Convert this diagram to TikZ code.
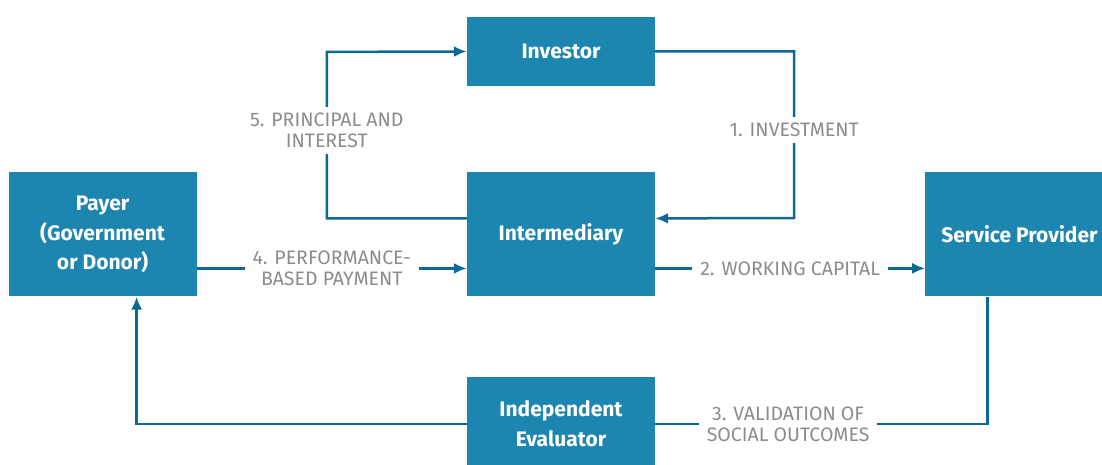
\documentclass[tikz,border=0pt]{standalone}
\usepackage{fontspec}
\setmainfont{Fira Sans}
\usetikzlibrary{shapes,arrows.meta,positioning}
\definecolor{boxblue}{RGB}{29,134,176}
\definecolor{lineblue}{RGB}{12,104,148}
\definecolor{labelgrey}{RGB}{140,140,140}
\tikzstyle{block} = [rectangle, fill=boxblue, text=white, align=center,
    minimum width=188pt, minimum height=124pt, inner sep=0pt,
    font=\bfseries\fontsize{21}{29.5}\selectfont]
\tikzstyle{line} = [draw, lineblue, line width=2.5pt, -{Latex[length=13pt,width=11pt]}]
\tikzstyle{link} = [draw, lineblue, line width=2.5pt]
\tikzstyle{flowlabel} = [fill=white, text=labelgrey, align=center,
    inner xsep=8pt, inner ysep=6pt, font=\fontsize{19.5}{21}\selectfont]

\begin{document}
\begin{tikzpicture}
	    \useasboundingbox (0,0) rectangle (1102pt,-465pt);
	    \clip (0,0) rectangle (1102pt,-465pt);
	    % Place nodes
	    \node [block, minimum height=69pt] (investor) at (561pt,-51.5pt) {Investor};
	    \node [block, below=86pt of investor] (intermediary) {Intermediary};
	    \node [block, left=270pt of intermediary] (payer) {Payer\\(Government\\or Donor)};
	    \node [block, right=270pt of intermediary] (provider) {Service Provider};
	    \node [block, minimum height=94pt, below=80pt of intermediary] (evaluator) {Independent\\Evaluator};
	    % Draw edges
	    \path [line] (investor.east) -- ++(139pt,0)
	        -- node [flowlabel, pos=0.47] {1. INVESTMENT} ++(0,-166.5pt)
	        -- ([yshift=16pt]intermediary.east);
	    \path [line] ([yshift=-34pt]intermediary.east)
	        -- node [flowlabel] {2. WORKING CAPITAL} ([yshift=-34pt]provider.west);
	    \path [link] ([xshift=-32pt]provider.south)
	        |- node [flowlabel, pos=0.8] {3. VALIDATION OF\\SOCIAL OUTCOMES} (evaluator.east);
	    \path [line] (evaluator.west) -| ([xshift=34pt]payer.south);
	    \path [line] ([yshift=-34pt]payer.east)
	        -- node [flowlabel] {4. PERFORMANCE-\\BASED PAYMENT} ([yshift=-34pt]intermediary.west);
	    \path [line] ([yshift=16pt]intermediary.west) -- ++(-140pt,0)
	        -- node [flowlabel, pos=0.53] {5. PRINCIPAL AND\\INTEREST} ++(0,166.5pt)
	        -- (investor.west);
	\end{tikzpicture}
\end{document}
